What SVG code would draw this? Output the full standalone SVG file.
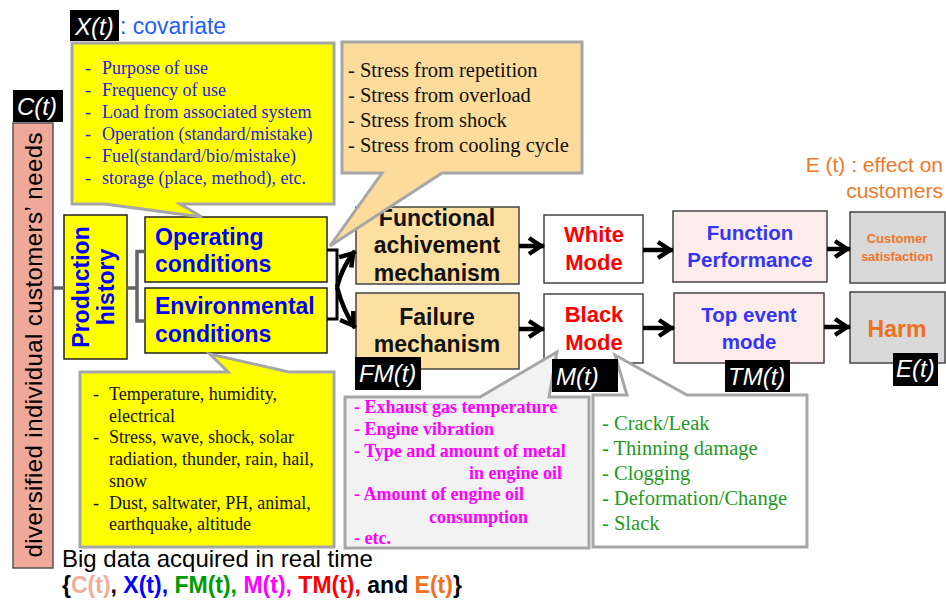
<svg xmlns="http://www.w3.org/2000/svg" width="946" height="604" viewBox="0 0 946 604">
<defs>
<style>
.sans{font-family:"Liberation Sans",Arial,sans-serif}
.serif{font-family:"Liberation Serif","Times New Roman",serif}
.b{font-weight:bold}
.mid{text-anchor:middle}
.ybox{fill:#FFFF00;stroke:#222;stroke-width:1.5}
.obox{fill:#FDDF9F;stroke:#444;stroke-width:1.5}
.wbox{fill:#FFFFFF;stroke:#444;stroke-width:1.5}
.pbox{fill:#FCEDEC;stroke:#444;stroke-width:1.5}
.gbox{fill:#D9D9D9;stroke:#444;stroke-width:1.5}
.callout{stroke:#A6A6A6;stroke-width:3;stroke-linejoin:miter}
.lblbg{fill:#000}
.lbl{fill:#FFF;font-style:italic;font-size:24px}
.gline{fill:none;stroke:#666;stroke-width:3.5}
.kline{fill:none;stroke:#000;stroke-width:3}
.arrow{fill:none;stroke:#000;stroke-width:4.5;marker-end:url(#ah)}
</style>
<marker id="ah" markerUnits="userSpaceOnUse" viewBox="-2 -12 22 24" markerWidth="22" markerHeight="24" refX="17" refY="0" orient="auto">
<path d="M2,-8 L14,0 L2,8" fill="none" stroke="#000" stroke-width="4.5" stroke-linejoin="miter"/>
</marker>
</defs>
<rect width="946" height="604" fill="#FFFFFF"/>

<g id="node-needs">
<rect x="13" y="123" width="40" height="445" fill="#F0A898" stroke="#555" stroke-width="1.5"/>
<text class="sans" font-size="24" fill="#000" text-anchor="middle" textLength="425" lengthAdjust="spacing" transform="translate(42,345) rotate(-90)">diversified individual customers’ needs</text>
</g>

<g id="node-production">
<rect class="ybox" x="64" y="215" width="63" height="144"/>
<text class="sans b mid" font-size="23" fill="#0000FF" transform="translate(89,287) rotate(-90)">Production</text>
<text class="sans b mid" font-size="23" fill="#0000FF" transform="translate(114,287) rotate(-90)">history</text>
</g>

<g id="node-operating">
<rect class="ybox" x="145" y="217" width="182" height="65"/>
<text class="sans b" font-size="23" fill="#0000FF" x="155" y="245">Operating</text>
<text class="sans b" font-size="23" fill="#0000FF" x="155" y="272">conditions</text>
</g>

<g id="node-environmental">
<rect class="ybox" x="145" y="288" width="182" height="65"/>
<text class="sans b" font-size="23" fill="#0000FF" x="155" y="314">Environmental</text>
<text class="sans b" font-size="23" fill="#0000FF" x="155" y="342">conditions</text>
</g>

<g id="node-functional">
<rect class="obox" x="356" y="207" width="163" height="77"/>
<text class="sans b mid" font-size="23" fill="#111" x="437" y="226">Functional</text>
<text class="sans b mid" font-size="23" fill="#111" x="437" y="253">achivement</text>
<text class="sans b mid" font-size="23" fill="#111" x="437" y="281">mechanism</text>
</g>

<g id="node-failure">
<rect class="obox" x="356" y="293" width="163" height="76"/>
<text class="sans b mid" font-size="23" fill="#111" x="437" y="325">Failure</text>
<text class="sans b mid" font-size="23" fill="#111" x="437" y="352">mechanism</text>
</g>

<g id="node-white">
<rect class="wbox" x="544" y="215" width="99" height="68"/>
<text class="sans b mid" font-size="22" fill="#FF0000" x="594" y="242">White</text>
<text class="sans b mid" font-size="22" fill="#FF0000" x="594" y="270">Mode</text>
</g>

<g id="node-black">
<rect class="wbox" x="544" y="294" width="99" height="69"/>
<text class="sans b mid" font-size="22" fill="#FF0000" x="594" y="322">Black</text>
<text class="sans b mid" font-size="22" fill="#FF0000" x="594" y="350">Mode</text>
</g>

<g id="node-function-performance">
<rect class="pbox" x="673" y="211" width="154" height="71"/>
<text class="sans b mid" font-size="20.5" fill="#3535F5" x="750" y="240">Function</text>
<text class="sans b mid" font-size="20.5" fill="#3535F5" x="750" y="267">Performance</text>
</g>

<g id="node-top-event">
<rect class="pbox" x="674" y="293" width="150" height="70"/>
<text class="sans b mid" font-size="20.5" fill="#3535F5" x="749" y="322">Top event</text>
<text class="sans b mid" font-size="20.5" fill="#3535F5" x="749" y="349">mode</text>
</g>

<g id="node-customer-satisfaction">
<rect class="gbox" x="850" y="212" width="95" height="71"/>
<text class="sans b mid" font-size="13" fill="#F07628" x="897" y="243">Customer</text>
<text class="sans b mid" font-size="13" fill="#F07628" x="897" y="261">satisfaction</text>
</g>

<g id="node-harm">
<rect class="gbox" x="850" y="292" width="95" height="71"/>
<text class="sans b mid" font-size="23" fill="#F07020" x="897" y="337">Harm</text>
</g>

<g id="node-effect-title">
<text class="sans" font-size="21" fill="#F07828" text-anchor="end" x="943" y="172">E (t) : effect on</text>
<text class="sans" font-size="21" fill="#F07828" text-anchor="end" x="943" y="198">customers</text>
</g>

<g id="connectors">
<line class="gline" x1="53" y1="288" x2="64" y2="288"/>
<path class="gline" d="M127,288 H137 M145,251.5 H137 V321 H145"/>
<path class="kline" d="M327,250 H337 V319 H327"/>
<path class="arrow" d="M337,287 Q343,265 355,251"/>
<path class="arrow" d="M337,287 Q343,310 355,328"/>
<line class="arrow" x1="519" y1="246" x2="544" y2="246"/>
<line class="arrow" x1="643" y1="250" x2="673" y2="250"/>
<line class="arrow" x1="827" y1="249" x2="850" y2="249"/>
<line class="arrow" x1="519" y1="329" x2="544" y2="329"/>
<line class="arrow" x1="643" y1="328" x2="674" y2="328"/>
<line class="arrow" x1="824" y1="327" x2="850" y2="327"/>
</g>

<g id="callout-covariate">
<path class="callout" fill="#FFFF00" d="M72,43 H334 V204 H180 L202,217 L105,204 H72 Z"/>
<g class="serif" font-size="18" fill="#2323DD">
<text y="74"><tspan x="85">-</tspan><tspan x="102">Purpose of use</tspan></text>
<text y="96"><tspan x="85">-</tspan><tspan x="102">Frequency of use</tspan></text>
<text y="118"><tspan x="85">-</tspan><tspan x="102">Load from associated system</tspan></text>
<text y="140"><tspan x="85">-</tspan><tspan x="102">Operation (standard/mistake)</tspan></text>
<text y="162"><tspan x="85">-</tspan><tspan x="102">Fuel(standard/bio/mistake)</tspan></text>
<text y="184"><tspan x="85">-</tspan><tspan x="102">storage (place, method), etc.</tspan></text>
</g>
</g>

<g id="callout-stress">
<path class="callout" fill="#FDDC9B" d="M342,42 H582 V173 H442 L330,246 L382,173 H342 Z"/>
<g class="serif" font-size="20.5" fill="#111">
<text x="348" y="77">- Stress from repetition</text>
<text x="348" y="102">- Stress from overload</text>
<text x="348" y="127">- Stress from shock</text>
<text x="348" y="152">- Stress from cooling cycle</text>
</g>
</g>

<g id="callout-environment">
<path class="callout" fill="#FFFF00" d="M80,372 H228 L210,354 L289,372 H334 V547 H80 Z"/>
<g class="serif" font-size="18" fill="#111">
<text y="400"><tspan x="93">-</tspan><tspan x="109">Temperature, humidity,</tspan></text>
<text x="109" y="422">electrical</text>
<text y="443"><tspan x="93">-</tspan><tspan x="109">Stress, wave, shock, solar</tspan></text>
<text x="109" y="465">radiation, thunder, rain, hail,</text>
<text x="109" y="487">snow</text>
<text y="509"><tspan x="93">-</tspan><tspan x="109">Dust, saltwater, PH, animal,</tspan></text>
<text x="109" y="530">earthquake, altitude</text>
</g>
</g>

<g id="callout-monitoring">
<path class="callout" fill="#F2F2F2" d="M345,397 H480 L557,352 L549,397 H589 V548 H345 Z"/>
<g class="serif b" font-size="18" fill="#FF00FF">
<text x="354" y="413">- Exhaust gas temperature</text>
<text x="354" y="435">- Engine vibration</text>
<text x="354" y="457">- Type and amount of metal</text>
<text x="469" y="479">in engine oil</text>
<text x="354" y="500">- Amount of engine oil</text>
<text x="429" y="523">consumption</text>
<text x="354" y="544">- etc.</text>
</g>
</g>

<g id="callout-modes">
<path class="callout" fill="#FFFFFF" d="M593,395 H627 L615,355 L687,395 H807 V547 H593 Z"/>
<g class="serif" font-size="20.5" fill="#1E9A1E">
<text x="602" y="430">- Crack/Leak</text>
<text x="602" y="455">- Thinning damage</text>
<text x="602" y="480">- Clogging</text>
<text x="602" y="505">- Deformation/Change</text>
<text x="602" y="530">- Slack</text>
</g>
</g>

<g id="label-X">
<rect class="lblbg" x="70" y="10" width="49" height="31"/>
<text class="sans lbl" x="75" y="35">X(t)</text>
<text class="sans" font-size="23" fill="#1F5FFF" x="120" y="34">: covariate</text>
</g>
<g id="label-C">
<rect class="lblbg" x="13" y="90" width="50" height="32"/>
<text class="sans lbl" x="17" y="115">C(t)</text>
</g>
<g id="label-FM">
<rect class="lblbg" x="355" y="357" width="66" height="33"/>
<text class="sans lbl" x="359" y="382">FM(t)</text>
</g>
<g id="label-M">
<rect class="lblbg" x="552" y="359" width="66" height="33"/>
<text class="sans lbl" x="556" y="385">M(t)</text>
</g>
<g id="label-TM">
<rect class="lblbg" x="725" y="360" width="65" height="32"/>
<text class="sans lbl" x="728" y="385">TM(t)</text>
</g>
<g id="label-E">
<rect class="lblbg" x="893" y="353" width="45" height="33"/>
<text class="sans lbl" x="896" y="377">E(t)</text>
</g>

<g id="footer">
<text class="sans" font-size="24" fill="#000" x="62" y="567">Big data acquired in real time</text>
<text class="sans b" font-size="23" x="62" y="593"><tspan fill="#000">{</tspan><tspan fill="#F2AC9A">C(t)</tspan><tspan fill="#000">,</tspan><tspan fill="#0000FF"> X(t),</tspan><tspan fill="#009A00"> FM(t),</tspan><tspan fill="#FF00FF"> M(t),</tspan><tspan fill="#FF0000"> TM(t),</tspan><tspan fill="#000"> and </tspan><tspan fill="#F07020">E(t)</tspan><tspan fill="#000">}</tspan></text>
</g>
</svg>
